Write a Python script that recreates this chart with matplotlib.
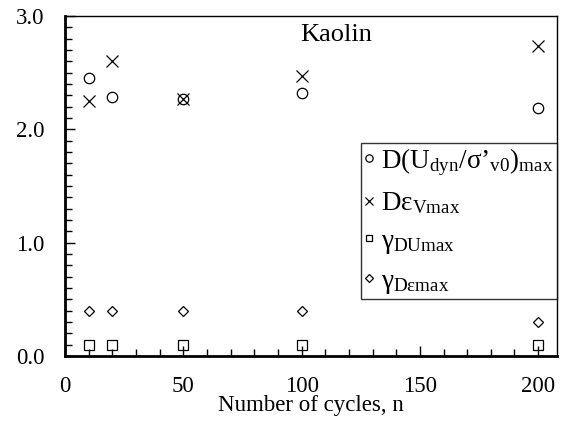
import matplotlib
matplotlib.use("Agg")
import matplotlib.pyplot as plt
from matplotlib.ticker import MultipleLocator

plt.rcParams['font.family'] = ['Liberation Serif', 'DejaVu Serif']
plt.rcParams['mathtext.fontset'] = 'custom'
plt.rcParams['mathtext.rm'] = 'Liberation Serif'
plt.rcParams['mathtext.it'] = 'Liberation Serif:italic'

cycles = [10, 20, 50, 100, 200]
d_udyn = [2.45, 2.29, 2.27, 2.32, 2.19]
d_eps = [2.25, 2.60, 2.27, 2.47, 2.74]
g_du = [0.10, 0.10, 0.10, 0.10, 0.10]
g_de = [0.40, 0.40, 0.40, 0.40, 0.30]

labels = [r"D(U$_{\rm dyn}$/σ’$_{\rm v0}$)$_{\rm max}$",
          r"Dε$_{\rm Vmax}$",
          r"γ$_{\rm DUmax}$",
          r"γ$_{\rm D\varepsilon max}$"]

fig = plt.figure(figsize=(5.61, 4.23), dpi=100)
ax = fig.add_axes([0.116, 0.158, 0.877, 0.804])

ax.plot(cycles, d_udyn, 'o', mfc='none', mec='black', ms=7.5, mew=0.9, ls='none', label=labels[0])
ax.plot(cycles, d_eps, 'x', color='black', ms=8.5, mew=0.9, ls='none', label=labels[1])
ax.plot(cycles, g_du, 's', mfc='none', mec='black', ms=6.5, mew=0.9, ls='none', label=labels[2])
ax.plot(cycles, g_de, 'D', mfc='none', mec='black', ms=5.5, mew=0.9, ls='none', label=labels[3])

ax.set_xlim(0, 208)
ax.set_ylim(0, 3.0)
ax.xaxis.set_major_locator(MultipleLocator(50))
ax.xaxis.set_minor_locator(MultipleLocator(10))
ax.yaxis.set_major_locator(MultipleLocator(1.0))
ax.yaxis.set_minor_locator(MultipleLocator(0.1))
ax.yaxis.set_major_formatter(matplotlib.ticker.FormatStrFormatter('%.1f'))
ax.tick_params(which='both', direction='in', labelsize=16.5, colors='black')
ax.tick_params(which='major', length=7, width=1)
ax.tick_params(which='minor', length=5, width=1)
ax.tick_params(axis='x', pad=14)
ax.tick_params(axis='y', pad=15)

for s in ['left', 'bottom']:
    ax.spines[s].set_linewidth(2)
for s in ['top', 'right']:
    ax.spines[s].set_linewidth(1)

ax.set_xlabel("Number of cycles, n", fontsize=16.5, labelpad=-1)
ax.text(0.55, 0.945, "Kaolin", transform=ax.transAxes, fontsize=19, ha='center', va='center')

leg = ax.legend(loc='upper right', bbox_to_anchor=(1.0, 0.628), borderaxespad=0,
                prop={'size': 19.5}, frameon=True, fancybox=False, edgecolor='black',
                markerscale=0.7, handlelength=0.35, handletextpad=0.3,
                labelspacing=0.47, borderpad=0.12)
leg.get_frame().set_linewidth(1)

fig.savefig("out.png", dpi=100)
